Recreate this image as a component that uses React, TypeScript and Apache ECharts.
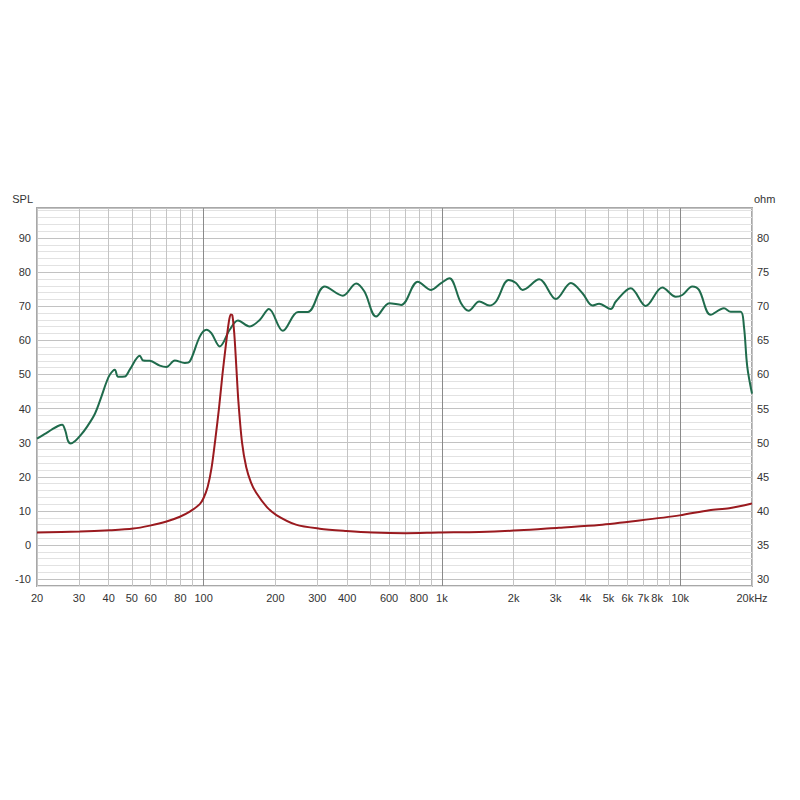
import React, { useEffect, useRef } from "react";
import * as echarts from "echarts";

// SPL curve (frequency in Hz, level in dB)
const splFreq = [20, 21.5, 23, 24.5, 25.5, 26.3, 27.0, 27.7, 29, 30.5, 32.3, 35, 37.3, 39, 40.4, 42.4, 43.8, 46.7, 49, 54, 55.8, 59.5, 65.5, 69.9, 75.7, 83.4, 87.5, 96.4, 102.8, 107.8, 116.9, 128.7, 139.4, 156, 172, 188, 215, 249, 274, 322, 384, 437, 473, 530, 602, 675, 792, 901, 992, 1075, 1203, 1294, 1435, 1581, 1687, 1904, 2045, 2180, 2561, 3008, 3477, 3888, 4281, 4567, 5113, 5366, 6199, 7166, 8409, 9573, 10200, 11234, 11984, 13417, 15254, 16273, 17920, 18500, 19099, 20000];
const splValues = [31.2, 32.5, 33.8, 34.9, 35.3, 33.5, 30.5, 29.8, 30.6, 32.2, 34.5, 38.5, 43.6, 47.5, 49.9, 51.4, 49.3, 49.4, 51.4, 55.5, 54.1, 54.0, 52.6, 52.2, 54.1, 53.4, 53.8, 61.1, 63.1, 62.1, 58.2, 63.1, 65.8, 64.1, 66.0, 69.2, 62.8, 68.3, 68.3, 75.8, 73.1, 76.7, 74.3, 67.0, 70.9, 70.4, 77.2, 74.8, 76.8, 78.2, 70.9, 68.7, 71.4, 70.2, 71.4, 77.7, 76.8, 74.8, 77.9, 72.1, 76.8, 73.8, 70.2, 70.7, 69.2, 71.4, 75.3, 70.1, 75.5, 72.8, 73.3, 75.8, 74.8, 67.5, 69.4, 68.4, 68.4, 64.1, 52.4, 44.4];

// Impedance curve (frequency in Hz, ohm)
const impFreq = [20, 30.3, 40.4, 50.7, 59.5, 69.9, 79.5, 87.5, 96.4, 100, 104, 108, 112, 116, 120, 124, 127.5, 130, 132, 134.5, 137, 140, 145, 151, 158, 166, 184, 202, 244, 307, 397, 511, 705, 970, 1435, 2108, 3095, 4567, 6737, 9942, 13236, 16050, 20000];
const impValues = [36.85, 36.97, 37.16, 37.41, 37.85, 38.45, 39.15, 39.9, 41.0, 41.9, 43.5, 46.3, 50.5, 55.0, 60.0, 64.3, 67.6, 68.8, 68.7, 66.0, 61.5, 56.0, 50.0, 46.4, 44.2, 42.7, 40.6, 39.4, 38.0, 37.4, 37.06, 36.83, 36.73, 36.83, 36.92, 37.16, 37.55, 37.95, 38.6, 39.35, 40.1, 40.4, 41.1];

// Frequency grid lines and labels
const xGridTicks = [20, 30, 40, 50, 60, 70, 80, 90, 100, 200, 300, 400, 500, 600, 700, 800, 900, 1000, 2000, 3000, 4000, 5000, 6000, 7000, 8000, 9000, 10000, 20000];
const xLabelTicks = [20, 30, 40, 50, 60, 80, 100, 200, 300, 400, 600, 800, 1000, 2000, 3000, 4000, 5000, 6000, 7000, 8000, 10000, 20000];
const ohmLabelTicks = [30, 35, 40, 45, 50, 55, 60, 65, 70, 75, 80];

const FONT = "Liberation Sans";

export default function App() {
  const ref = useRef<HTMLDivElement>(null);
  useEffect(() => {
    if (!ref.current) return;
    const chart = echarts.init(ref.current, null, { renderer: "svg" });
    const fmtFreq = (v: number) => {
      const f = Math.round(Math.pow(10, v));
      if (f === 20000) return "20kHz";
      if (f >= 1000) return f / 1000 + "k";
      return String(f);
    };
    chart.setOption({
      animation: false,
      backgroundColor: "#ffffff",
      grid: {
        left: 29,
        right: 40,
        top: 200,
        bottom: 206,
        show: true,
        backgroundColor: "#ffffff",
        borderColor: "#a8a8a8",
        borderWidth: 2,
      },
      xAxis: {
        type: "value",
        min: Math.log10(20),
        max: Math.log10(20000),
        axisLine: { show: false },
        axisTick: { show: false, customValues: xGridTicks.map((f) => Math.log10(f)) },
        axisLabel: {
          customValues: xLabelTicks.map((f) => Math.log10(f)),
          formatter: fmtFreq,
          color: "#333",
          fontFamily: FONT,
          fontSize: 11,
          margin: 6,
        },
        splitLine: {
          show: true,
          lineStyle: {
            width: 1,
            color: ["#c4c4c4", "#c4c4c4", "#c4c4c4", "#c4c4c4", "#c4c4c4", "#c4c4c4", "#c4c4c4", "#c4c4c4", "#8a8a8a"],
          },
        },
      },
      yAxis: [
        {
          type: "value",
          min: -12,
          max: 98.8,
          interval: 2,
          name: "SPL",
          nameLocation: "end",
          nameGap: 4,
          nameTextStyle: { align: "right", color: "#333", fontFamily: FONT, fontSize: 11, padding: [0, 4, 0, 0] },
          axisLine: { show: false },
          axisTick: { show: false },
          axisLabel: {
            formatter: (v: number) => (Math.abs(v % 10) < 1e-6 ? String(Math.round(v)) : ""),
            color: "#333",
            fontFamily: FONT,
            fontSize: 11,
            margin: 6,
          },
          splitLine: {
            show: true,
            lineStyle: { width: 1, color: ["#e2e2e2", "#c2c2c2", "#e2e2e2", "#e2e2e2", "#e2e2e2"] },
          },
        },
        {
          type: "value",
          min: 29,
          max: 84.4,
          position: "right",
          name: "ohm",
          nameLocation: "end",
          nameGap: 4,
          nameTextStyle: { align: "left", color: "#333", fontFamily: FONT, fontSize: 11, padding: [0, 0, 0, 2] },
          axisLine: { show: false },
          axisTick: { show: false },
          axisLabel: {
            customValues: ohmLabelTicks,
            color: "#333",
            fontFamily: FONT,
            fontSize: 11,
            margin: 5,
          },
          splitLine: { show: false },
        },
      ],
      series: [
        {
          type: "line",
          yAxisIndex: 0,
          data: splFreq.map((f, i) => [Math.log10(f), splValues[i]]),
          showSymbol: false,
          smooth: 0.35,
          lineStyle: { color: "#1f6b4c", width: 2 },
          z: 3,
        },
        {
          type: "line",
          yAxisIndex: 1,
          data: impFreq.map((f, i) => [Math.log10(f), impValues[i]]),
          showSymbol: false,
          smooth: 0.3,
          lineStyle: { color: "#9a1a1f", width: 2 },
          z: 4,
        },
      ],
    });
    return () => chart.dispose();
  }, []);
  return <div ref={ref} style={{ width: 784, height: 784 }} />;
}
